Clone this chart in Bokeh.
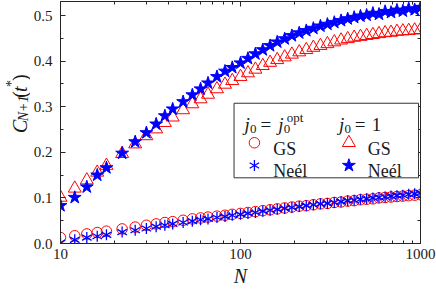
import math
from bokeh.plotting import figure
from bokeh.layouts import row
from bokeh.models import (Range1d, FixedTicker, NumeralTickFormatter, LogAxis,
                          LinearAxis, Label, BoxAnnotation)
from bokeh.embed import file_html
from bokeh.resources import INLINE

# ---------------- data ----------------
N = [10, 12, 14, 16, 18, 22, 26, 30, 34, 38, 42, 48, 54, 60, 66, 74, 82, 90,
     100, 110, 121, 133, 146, 160, 176, 193, 212, 232, 254, 278, 304, 332,
     362, 394, 428, 464, 502, 544, 588, 636, 686, 740, 798, 860, 928, 1000]

gs_opt = [0.013, 0.017, 0.021, 0.024, 0.027, 0.032, 0.036, 0.040, 0.043, 0.046,
          0.048, 0.051, 0.054, 0.056, 0.058, 0.060, 0.062, 0.064, 0.066, 0.068,
          0.070, 0.072, 0.074, 0.076, 0.078, 0.080, 0.082, 0.083, 0.085, 0.087,
          0.088, 0.090, 0.091, 0.093, 0.094, 0.096, 0.097, 0.098, 0.100, 0.101,
          0.102, 0.103, 0.104, 0.105, 0.106, 0.107]

neel_opt = [0.002, 0.008, 0.013, 0.016, 0.019, 0.025, 0.029, 0.033, 0.037, 0.040,
            0.043, 0.046, 0.049, 0.052, 0.054, 0.057, 0.059, 0.062, 0.064, 0.066,
            0.068, 0.071, 0.073, 0.075, 0.077, 0.079, 0.081, 0.083, 0.085, 0.087,
            0.088, 0.090, 0.092, 0.094, 0.095, 0.097, 0.098, 0.100, 0.101, 0.102,
            0.104, 0.105, 0.106, 0.108, 0.109, 0.111]

gs_one = [0.101, 0.121, 0.139, 0.156, 0.171, 0.197, 0.218, 0.236, 0.251, 0.265,
          0.277, 0.293, 0.306, 0.317, 0.327, 0.339, 0.349, 0.357, 0.366, 0.374,
          0.382, 0.390, 0.397, 0.403, 0.409, 0.415, 0.420, 0.425, 0.430, 0.434,
          0.438, 0.442, 0.446, 0.449, 0.452, 0.454, 0.456, 0.458, 0.460, 0.462,
          0.463, 0.465, 0.466, 0.467, 0.468, 0.469]

neel_one = [0.083, 0.101, 0.124, 0.150, 0.166, 0.198, 0.223, 0.243, 0.262, 0.280,
            0.295, 0.311, 0.326, 0.339, 0.352, 0.366, 0.378, 0.386, 0.396, 0.406,
            0.416, 0.425, 0.434, 0.442, 0.449, 0.456, 0.462, 0.467, 0.472, 0.477,
            0.481, 0.485, 0.489, 0.493, 0.496, 0.499, 0.501, 0.505, 0.503, 0.509,
            0.507, 0.512, 0.510, 0.515, 0.513, 0.518]

x_ticks = [10, 100, 1000]
x_minor = [20, 30, 40, 50, 60, 70, 80, 90, 200, 300, 400, 500, 600, 700, 800, 900]
y_ticks = [0.0, 0.1, 0.2, 0.3, 0.4, 0.5]
y_minor = [0.05, 0.15, 0.25, 0.35, 0.45]

x_label = "N"
y_label_parts = ["C", "N+1", "(", "t", "*", ")"]
legend_header = ["j", "0", "=", "j", "0", "opt"]
legend_header2 = ["j", "0", "=", "1"]
legend_labels = ["GS", "Neél", "GS", "Neél"]

# ---------------- style / layout ----------------
RED = "#ff0000"
BLUE = "#0000ff"
FONT = "Liberation Serif"
AX = "#262626"
TXT = "#1a1a1a"
TOTAL_W, TOTAL_H = 436, 289
LW = 30                    # strip holding the y label
W, H = TOTAL_W - LW, TOTAL_H
BL, BR, BT, BB = 28, 16, 1, 43
Y_END = 0.531
# frame in page pixels
FL, FR, FT, FB = LW + BL, LW + W - BR, BT, H - BB


def dx(px):
    return 10 ** (1 + 2 * (px - FL) / (FR - FL))


def dy(py):
    return Y_END * (FB - py) / (FB - FT)


p = figure(width=W, height=H, x_axis_type="log",
           x_range=Range1d(10, 1000), y_range=Range1d(0, Y_END),
           output_backend="svg", toolbar_location=None,
           min_border_left=BL, min_border_right=BR,
           min_border_top=BT, min_border_bottom=BB)
p.xgrid.visible = False
p.ygrid.visible = False
p.outline_line_color = AX
p.outline_line_alpha = 1
p.outline_line_width = 1
p.background_fill_color = "white"
p.border_fill_color = "white"


def style_axis(ax, show_labels):
    ax.major_tick_in = 5
    ax.major_tick_out = 0
    ax.minor_tick_in = 3
    ax.minor_tick_out = 0
    ax.axis_line_color = AX
    ax.major_tick_line_color = AX
    ax.minor_tick_line_color = AX
    ax.major_label_text_font = FONT
    ax.major_label_text_color = TXT
    if show_labels:
        ax.major_label_text_font_size = "15px"
    else:
        ax.major_label_text_font_size = "1px"
        ax.major_label_text_alpha = 0
        ax.major_label_standoff = 0


xa = p.xaxis[0]
xa.ticker = FixedTicker(ticks=x_ticks, minor_ticks=x_minor)
xa.formatter = NumeralTickFormatter(format="0")
style_axis(xa, True)
xa.major_label_standoff = 5
xa.axis_label = x_label
xa.axis_label_text_font = FONT
xa.axis_label_text_font_style = "italic"
xa.axis_label_text_font_size = "20px"
xa.axis_label_text_color = TXT
xa.axis_label_standoff = 3

ya = p.yaxis[0]
ya.ticker = FixedTicker(ticks=y_ticks, minor_ticks=y_minor)
ya.formatter = NumeralTickFormatter(format="0.0")
style_axis(ya, True)
ya.major_label_standoff = 8

top = LogAxis(ticker=FixedTicker(ticks=x_ticks, minor_ticks=x_minor))
style_axis(top, False)
p.add_layout(top, "above")
right = LinearAxis(ticker=FixedTicker(ticks=y_ticks, minor_ticks=y_minor))
style_axis(right, False)
p.add_layout(right, "right")

# ---------------- data marks ----------------
p.scatter(N, gs_opt, marker="circle", size=10.5, fill_color=None,
          line_color=RED, line_width=1)
for ang in (90, 30, 150):
    p.scatter(N, neel_opt, marker="dash", size=11, angle=ang, angle_units="deg",
              line_color=BLUE, line_width=1.3)
p.scatter(N, gs_one, marker="triangle", size=13, fill_color=None,
          line_color=RED, line_width=1)
p.scatter(N, neel_one, marker="star", size=13.5, fill_color=BLUE,
          line_color=BLUE, line_width=1)


# ---------------- legend (inside the frame) ----------------
def lab(fig, x, y, text, size, italic=False, angle=0.0, align="left"):
    fig.add_layout(Label(x=x, y=y, text=text, text_font=FONT,
                         text_font_size=f"{size}px",
                         text_font_style="italic" if italic else "normal",
                         text_color=TXT, angle=angle, text_align=align,
                         text_baseline="alphabetic"))


def plab(px, py, text, size, italic=False):
    lab(p, dx(px), dy(py), text, size, italic)


p.add_layout(BoxAnnotation(left=dx(232.5), right=dx(418), top=dy(104),
                           bottom=dy(179.5), fill_color="white", fill_alpha=1,
                           line_color="#333333", line_alpha=1, line_width=1))

hb = 126
plab(243, hb, legend_header[0], 19, italic=True)
plab(248.5, hb + 4, legend_header[1], 13)
plab(259, hb, legend_header[2], 19)
plab(277, hb, legend_header[3], 19, italic=True)
plab(282.5, hb + 4, legend_header[4], 13)
plab(285.5, hb - 8, legend_header[5], 13)
plab(338, hb, legend_header2[0], 19, italic=True)
plab(343.5, hb + 4, legend_header2[1], 13)
plab(354, hb, legend_header2[2], 19)
plab(371, hb, legend_header2[3], 19)

r2, r3 = 144, 167
mx1, tx1, mx2, tx2 = 253, 272, 348, 367
plab(tx1, r2 + 6, legend_labels[0], 18)
plab(tx1, r3 + 6, legend_labels[1], 18)
plab(tx2, r2 + 6, legend_labels[2], 18)
plab(tx2, r3 + 6, legend_labels[3], 18)

p.scatter([dx(mx1)], [dy(r2)], marker="circle", size=10.5, fill_color=None,
          line_color=RED, line_width=1, level="overlay")
for ang in (90, 30, 150):
    p.scatter([dx(mx1)], [dy(r3)], marker="dash", size=11, angle=ang,
              angle_units="deg", line_color=BLUE, line_width=1.3, level="overlay")
p.scatter([dx(mx2)], [dy(r2)], marker="triangle", size=13, fill_color=None,
          line_color=RED, line_width=1, level="overlay")
p.scatter([dx(mx2)], [dy(r3)], marker="star", size=13.5, fill_color=BLUE,
          line_color=BLUE, line_width=1, level="overlay")

# ---------------- y label strip (page-pixel coordinates) ----------------
s = figure(width=LW, height=H, x_range=Range1d(0, LW), y_range=Range1d(H, 0),
           output_backend="svg", toolbar_location=None, title=None,
           x_axis_location=None, y_axis_location=None,
           min_border_left=0, min_border_right=0, min_border_top=0,
           min_border_bottom=0)
s.xgrid.visible = False
s.ygrid.visible = False
s.outline_line_color = None
s.background_fill_color = "white"
s.border_fill_color = "white"

A = math.pi / 2
BX = 19
y0 = 157
lab(s, BX, y0, y_label_parts[0], 20, italic=True, angle=A)
lab(s, BX + 4, y0 - 14, y_label_parts[1], 14, italic=True, angle=A)
lab(s, BX, y0 - 42, y_label_parts[2], 20, angle=A)
lab(s, BX, y0 - 49, y_label_parts[3], 20, italic=True, angle=A)
lab(s, BX - 8, y0 - 55, y_label_parts[4], 14, angle=A)
lab(s, BX, y0 - 62, y_label_parts[5], 20, angle=A)

layout = row(s, p, spacing=0)
open("out.html", "w").write(file_html(layout, INLINE))
